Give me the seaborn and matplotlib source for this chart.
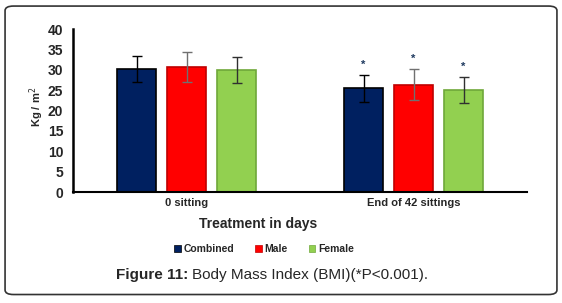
import numpy as np
import pandas as pd
import seaborn as sns
import matplotlib.pyplot as plt
from matplotlib.patches import FancyBboxPatch

sns.set_theme(style="white")
plt.rcParams["font.family"] = ["Liberation Sans", "DejaVu Sans"]

# Data
stages = ["0 sitting", "End of 42 sittings"]
groups = ["Combined", "Male", "Female"]
bmi_mean = [[30.2, 30.7, 30.0],   # 0 sitting
            [25.5, 26.4, 25.0]]   # End of 42 sittings
bmi_sd = [[3.3, 3.7, 3.2],
          [3.3, 3.8, 3.2]]
significant = [False, True]
y_ticks = [0, 5, 10, 15, 20, 25, 30, 35, 40]

colors = {"Combined": "#002060", "Male": "#FF0000", "Female": "#92D050"}
edges = {"Combined": "#000000", "Male": "#C00000", "Female": "#6FA83A"}
err_colors = {"Combined": "#000000", "Male": "#707070", "Female": "#303030"}

rows = []
for i, st in enumerate(stages):
    for j, g in enumerate(groups):
        rows.append({"Stage": st, "Group": g, "BMI": bmi_mean[i][j], "SD": bmi_sd[i][j],
                     "Sig": significant[i]})
df = pd.DataFrame(rows)

fig = plt.figure(figsize=(5.62, 3.03), dpi=100)
ax = fig.add_axes([0.130, 0.366, 0.808, 0.538])

sns.barplot(data=df, x="Stage", y="BMI", hue="Group", order=stages, hue_order=groups,
            palette=colors, saturation=1, width=0.66, gap=0.22, errorbar=None,
            legend=False, ax=ax)

# bar edges, error bars and significance stars
for bars, g in zip(ax.containers, groups):
    sub = df[df["Group"] == g].set_index("Stage").loc[stages]
    for bar, (_, r) in zip(bars, sub.iterrows()):
        bar.set_edgecolor(edges[g])
        bar.set_linewidth(1.2)
        xc = bar.get_x() + bar.get_width() / 2
        ax.errorbar(xc, r["BMI"], yerr=r["SD"], color=err_colors[g], capsize=3.5,
                    elinewidth=1, capthick=1)
        if r["Sig"]:
            ax.text(xc, r["BMI"] + r["SD"] + 2.5, "*", ha="center", va="center",
                    fontsize=8, color="#1F3A60", fontweight="bold")

ax.set_ylim(0, 40)
ax.set_xlim(-0.5, 1.5)
ax.set_yticks(y_ticks)
ax.set_yticklabels([str(t) for t in y_ticks], fontsize=10, fontweight="bold")
ax.set_xticks(range(len(stages)))
ax.set_xticklabels(stages, fontsize=8, fontweight="bold")
ax.tick_params(axis="both", length=0, pad=7)
ax.tick_params(axis="x", pad=4)
for s in ["top", "right"]:
    ax.spines[s].set_visible(False)
ax.spines["left"].set_color("black")
ax.spines["left"].set_linewidth(1.8)
ax.spines["bottom"].set_color("black")
ax.spines["bottom"].set_linewidth(1.5)
ax.set_xlabel("")
ax.set_ylabel("Kg / m$^2$", fontsize=8, fontweight="bold")
ax.yaxis.set_label_coords(-0.06, 0.52)

fig.text(0.459, 0.262, "Treatment in days", ha="center", va="center",
         fontsize=10, fontweight="bold")

handles = [plt.Rectangle((0, 0), 1, 1, facecolor=colors[g], edgecolor=edges[g], lw=0.5)
           for g in groups]
fig.legend(handles, groups, loc="center", bbox_to_anchor=(0.47, 0.178), ncol=3,
           frameon=False, handlelength=0.6, handleheight=0.6, handletextpad=0.3,
           columnspacing=2.0, prop={"size": 7.5, "weight": "bold"})

cap1 = fig.text(0.207, 0.093, "Figure 11:", ha="left", va="center",
                fontsize=11, fontweight="bold")
fig.canvas.draw()
bb = cap1.get_window_extent()
x_next = fig.transFigure.inverted().transform((bb.x1, bb.y0))[0]
fig.text(x_next + 0.006, 0.093, "Body Mass Index (BMI)(*P<0.001).", ha="left", va="center",
         fontsize=11)

box = FancyBboxPatch((0.009, 0.028), 0.982, 0.952, boxstyle="round,pad=0,rounding_size=0.015",
                     transform=fig.transFigure, facecolor="none", edgecolor="#333333",
                     linewidth=1.2)
fig.patches.append(box)

fig.savefig("out.png", dpi=100)
